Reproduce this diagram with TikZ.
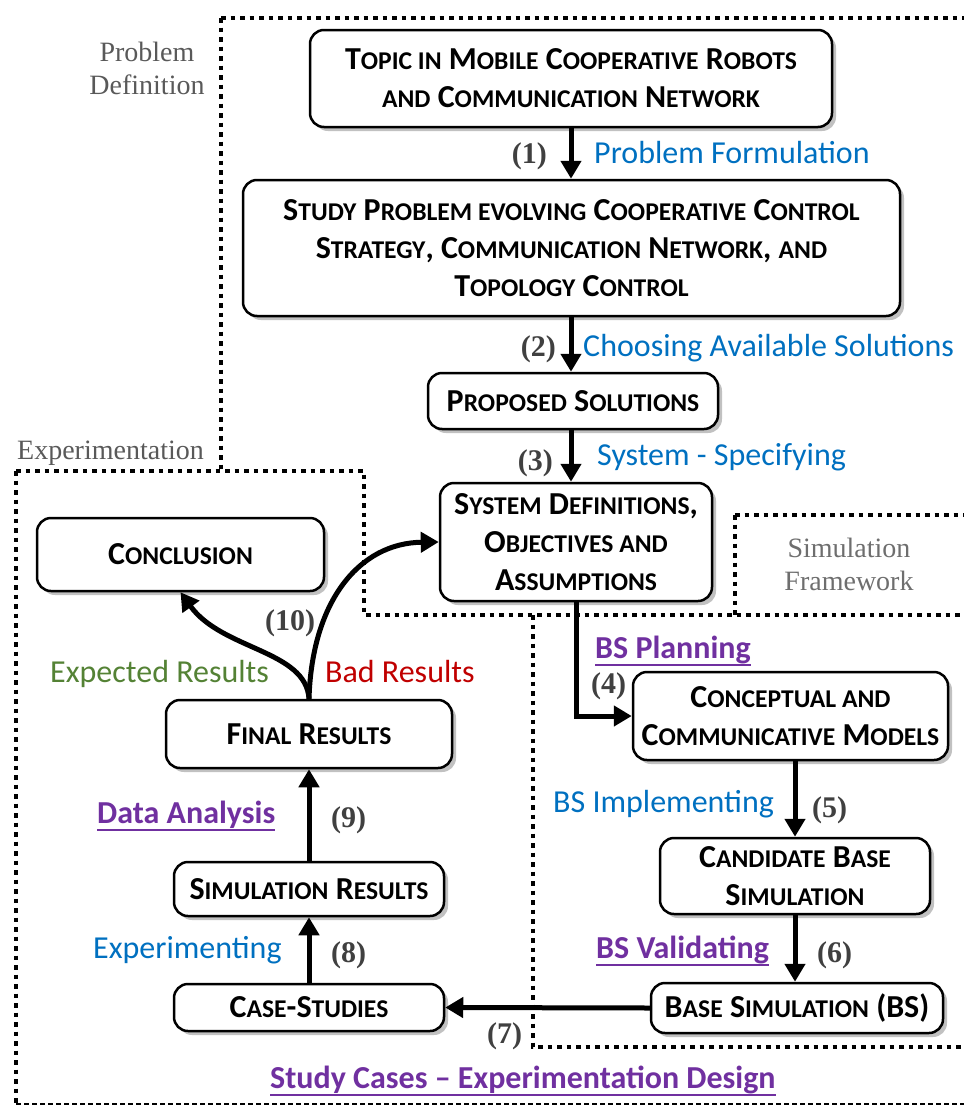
\documentclass[tikz,border=0pt]{standalone}
\usepackage{fontspec}
\setmainfont{Carlito}
\newfontfamily\timesf{Liberation Serif}
\usetikzlibrary{arrows.meta,shadows}
\definecolor{cblue}{RGB}{0,112,192}
\definecolor{cpurple}{RGB}{112,48,160}
\definecolor{cgreen}{RGB}{84,130,53}
\definecolor{cred}{RGB}{192,0,0}
\definecolor{numgray}{RGB}{64,64,64}
\definecolor{lgray}{RGB}{89,89,89}
\definecolor{sgray}{RGB}{110,110,110}
\newcommand\Sm[1]{{\fontsize{25.6}{38}\selectfont #1}}
\tikzset{
  box/.style={draw, line width=2.5pt, rounded corners=14pt, fill=white,
    drop shadow={shadow xshift=4pt, shadow yshift=-4pt, opacity=0.35, fill=black!70},
    align=center, inner sep=0pt, font=\fontsize{32}{38}\selectfont\bfseries},
  arr/.style={line width=5pt, -{Triangle[length=18pt,width=20pt]}},
  lbl/.style={inner sep=0pt, anchor=base west, font=\fontsize{32}{38}\selectfont},
  plbl/.style={lbl, text=cpurple, font=\fontsize{32}{38}\selectfont\bfseries},
  num/.style={inner sep=0pt, anchor=base west, text=numgray, font=\timesf\bfseries\fontsize{30}{36}\selectfont},
  glbl/.style={inner sep=0pt, anchor=base, font=\timesf\fontsize{28}{34}\selectfont},
  dotl/.style={line width=4pt, dash pattern=on 4.5pt off 5pt},
  dashl/.style={line width=1.5pt, dash pattern=on 5pt off 3pt}
}
\begin{document}
\begin{tikzpicture}[x=1pt,y=-1pt]
\useasboundingbox (0,0) rectangle (964,1106);
\clip (0,0) rectangle (964,1106);
% region boxes
\draw[dotl] (221,18) -- (964,18);
\draw[dotl] (221,18) -- (221,471);
\draw[dotl] (16,471) -- (364,471) -- (364,615) -- (964,615);
\draw[dotl] (735,515) -- (964,515);
\draw[dotl] (735,515) -- (735,615);
\draw[dotl] (16,471) -- (16,1104);
\draw[dashl] (16,1104) -- (964,1104);
\draw[dotl] (533,615) -- (533,1047) -- (964,1047);
% region labels
\node[glbl, text=lgray] (pd1) at (147,61) {Problem};
\node[glbl, text=lgray] (pd2) at (147,94) {Definition};
\node[glbl, text=lgray, anchor=base west] (ex) at (17,459) {Experimentation};
\node[glbl, text=sgray] (sf1) at (849,557) {Simulation};
\node[glbl, text=sgray] (sf2) at (849,590) {Framework};
% boxes
\node[box, minimum width=522pt, minimum height=97pt] (topic) at (571,78.5)
  {T\Sm{OPIC IN} M\Sm{OBILE} C\Sm{OOPERATIVE} R\Sm{OBOTS}\\ \Sm{AND} C\Sm{OMMUNICATION} N\Sm{ETWORK}};
\node[box, minimum width=657pt, minimum height=136pt] (study) at (571.5,248)
  {S\Sm{TUDY} P\Sm{ROBLEM EVOLVING} C\Sm{OOPERATIVE} C\Sm{ONTROL}\\ S\Sm{TRATEGY}, C\Sm{OMMUNICATION} N\Sm{ETWORK}, \Sm{AND}\\ T\Sm{OPOLOGY} C\Sm{ONTROL}};
\node[box, minimum width=290pt, minimum height=56pt] (prop) at (573,401)
  {P\Sm{ROPOSED} S\Sm{OLUTIONS}};
\node[box, minimum width=272pt, minimum height=118pt] (sys) at (576,542)
  {S\Sm{YSTEM} D\Sm{EFINITIONS},\\ O\Sm{BJECTIVES AND}\\ A\Sm{SSUMPTIONS}};
\node[box, minimum width=287pt, minimum height=73pt] (concl) at (180.5,554.5)
  {C\Sm{ONCLUSION}};
\node[box, minimum width=286pt, minimum height=68pt] (final) at (309,734)
  {F\Sm{INAL} R\Sm{ESULTS}};
\node[box, minimum width=270pt, minimum height=54pt] (simres) at (309,889)
  {S\Sm{IMULATION} R\Sm{ESULTS}};
\node[box, minimum width=270pt, minimum height=47pt] (case) at (309,1007.5)
  {C\Sm{ASE}-S\Sm{TUDIES}};
\node[box, minimum width=315pt, minimum height=88pt] (concept) at (790.5,716)
  {C\Sm{ONCEPTUAL AND}\\ C\Sm{OMMUNICATIVE} M\Sm{ODELS}};
\node[box, minimum width=270pt, minimum height=76pt] (cand) at (795,876)
  {C\Sm{ANDIDATE} B\Sm{ASE}\\ S\Sm{IMULATION}};
\node[box, minimum width=292pt, minimum height=50pt] (bs) at (797,1008)
  {B\Sm{ASE} S\Sm{IMULATION} (BS)};
% arrows
\draw[arr] (topic.south) -- (topic.south |- study.north);
\draw[arr] (topic.south |- study.south) -- (topic.south |- prop.north);
\draw[arr] (topic.south |- prop.south) -- (topic.south |- sys.north);
\draw[arr] (sys.south) |- (concept.west);
\draw[arr] (cand.north |- concept.south) -- (cand.north);
\draw[arr] (cand.south) -- (cand.south |- bs.north);
\draw[arr] (bs.west) -- (case.east);
\draw[arr] (case.north) -- (simres.south);
\draw[arr] (simres.north) -- (final.south);
\draw[arr] (final.north) .. controls (306,650) and (222,650) .. (concl.south);
\draw[arr] (final.north) .. controls (312,600) and (360,543) .. (sys.west);
% labels
\node[num, anchor=base east] (n1) at (547,163) {(1)};
\node[lbl, text=cblue] (l1) at (594,163) {Problem Formulation};
\node[num, anchor=base east] (n2) at (556,356) {(2)};
\node[lbl, text=cblue] (l2) at (583,356) {Choosing Available Solutions};
\node[num, anchor=base east] (n3) at (553,470) {(3)};
\node[lbl, text=cblue] (l3) at (597,465) {System - Specifying};
\node[plbl] (l4) at (595,658) {BS Planning};
\node[num] (n4) at (591,693) {(4)};
\node[lbl, text=cblue] (l5) at (553,812) {BS Implementing};
\node[num] (n5) at (812,817) {(5)};
\node[plbl] (l6) at (596,958) {BS Validating};
\node[num] (n6) at (817,962) {(6)};
\node[num] (n7) at (487,1043) {(7)};
\node[plbl] (lstudy) at (270,1088) {Study Cases – Experimentation Design};
\node[num] (n8) at (331,962) {(8)};
\node[lbl, text=cblue] (l8) at (93,958) {Experimenting};
\node[num] (n9) at (331,827) {(9)};
\node[plbl] (l9) at (97,823) {Data Analysis};
\node[num] (n10) at (265,630) {(10)};
\node[lbl, text=cgreen] (lexp) at (50,682) {Expected Results};
\node[lbl, text=cred] (lbad) at (325,682) {Bad Results};
\foreach \n in {l4,l6,l9,lstudy}
  \draw[cpurple, line width=2.5pt] ([yshift=-7pt]\n.base west) -- ([yshift=-7pt]\n.base east);
\end{tikzpicture}
\end{document}
